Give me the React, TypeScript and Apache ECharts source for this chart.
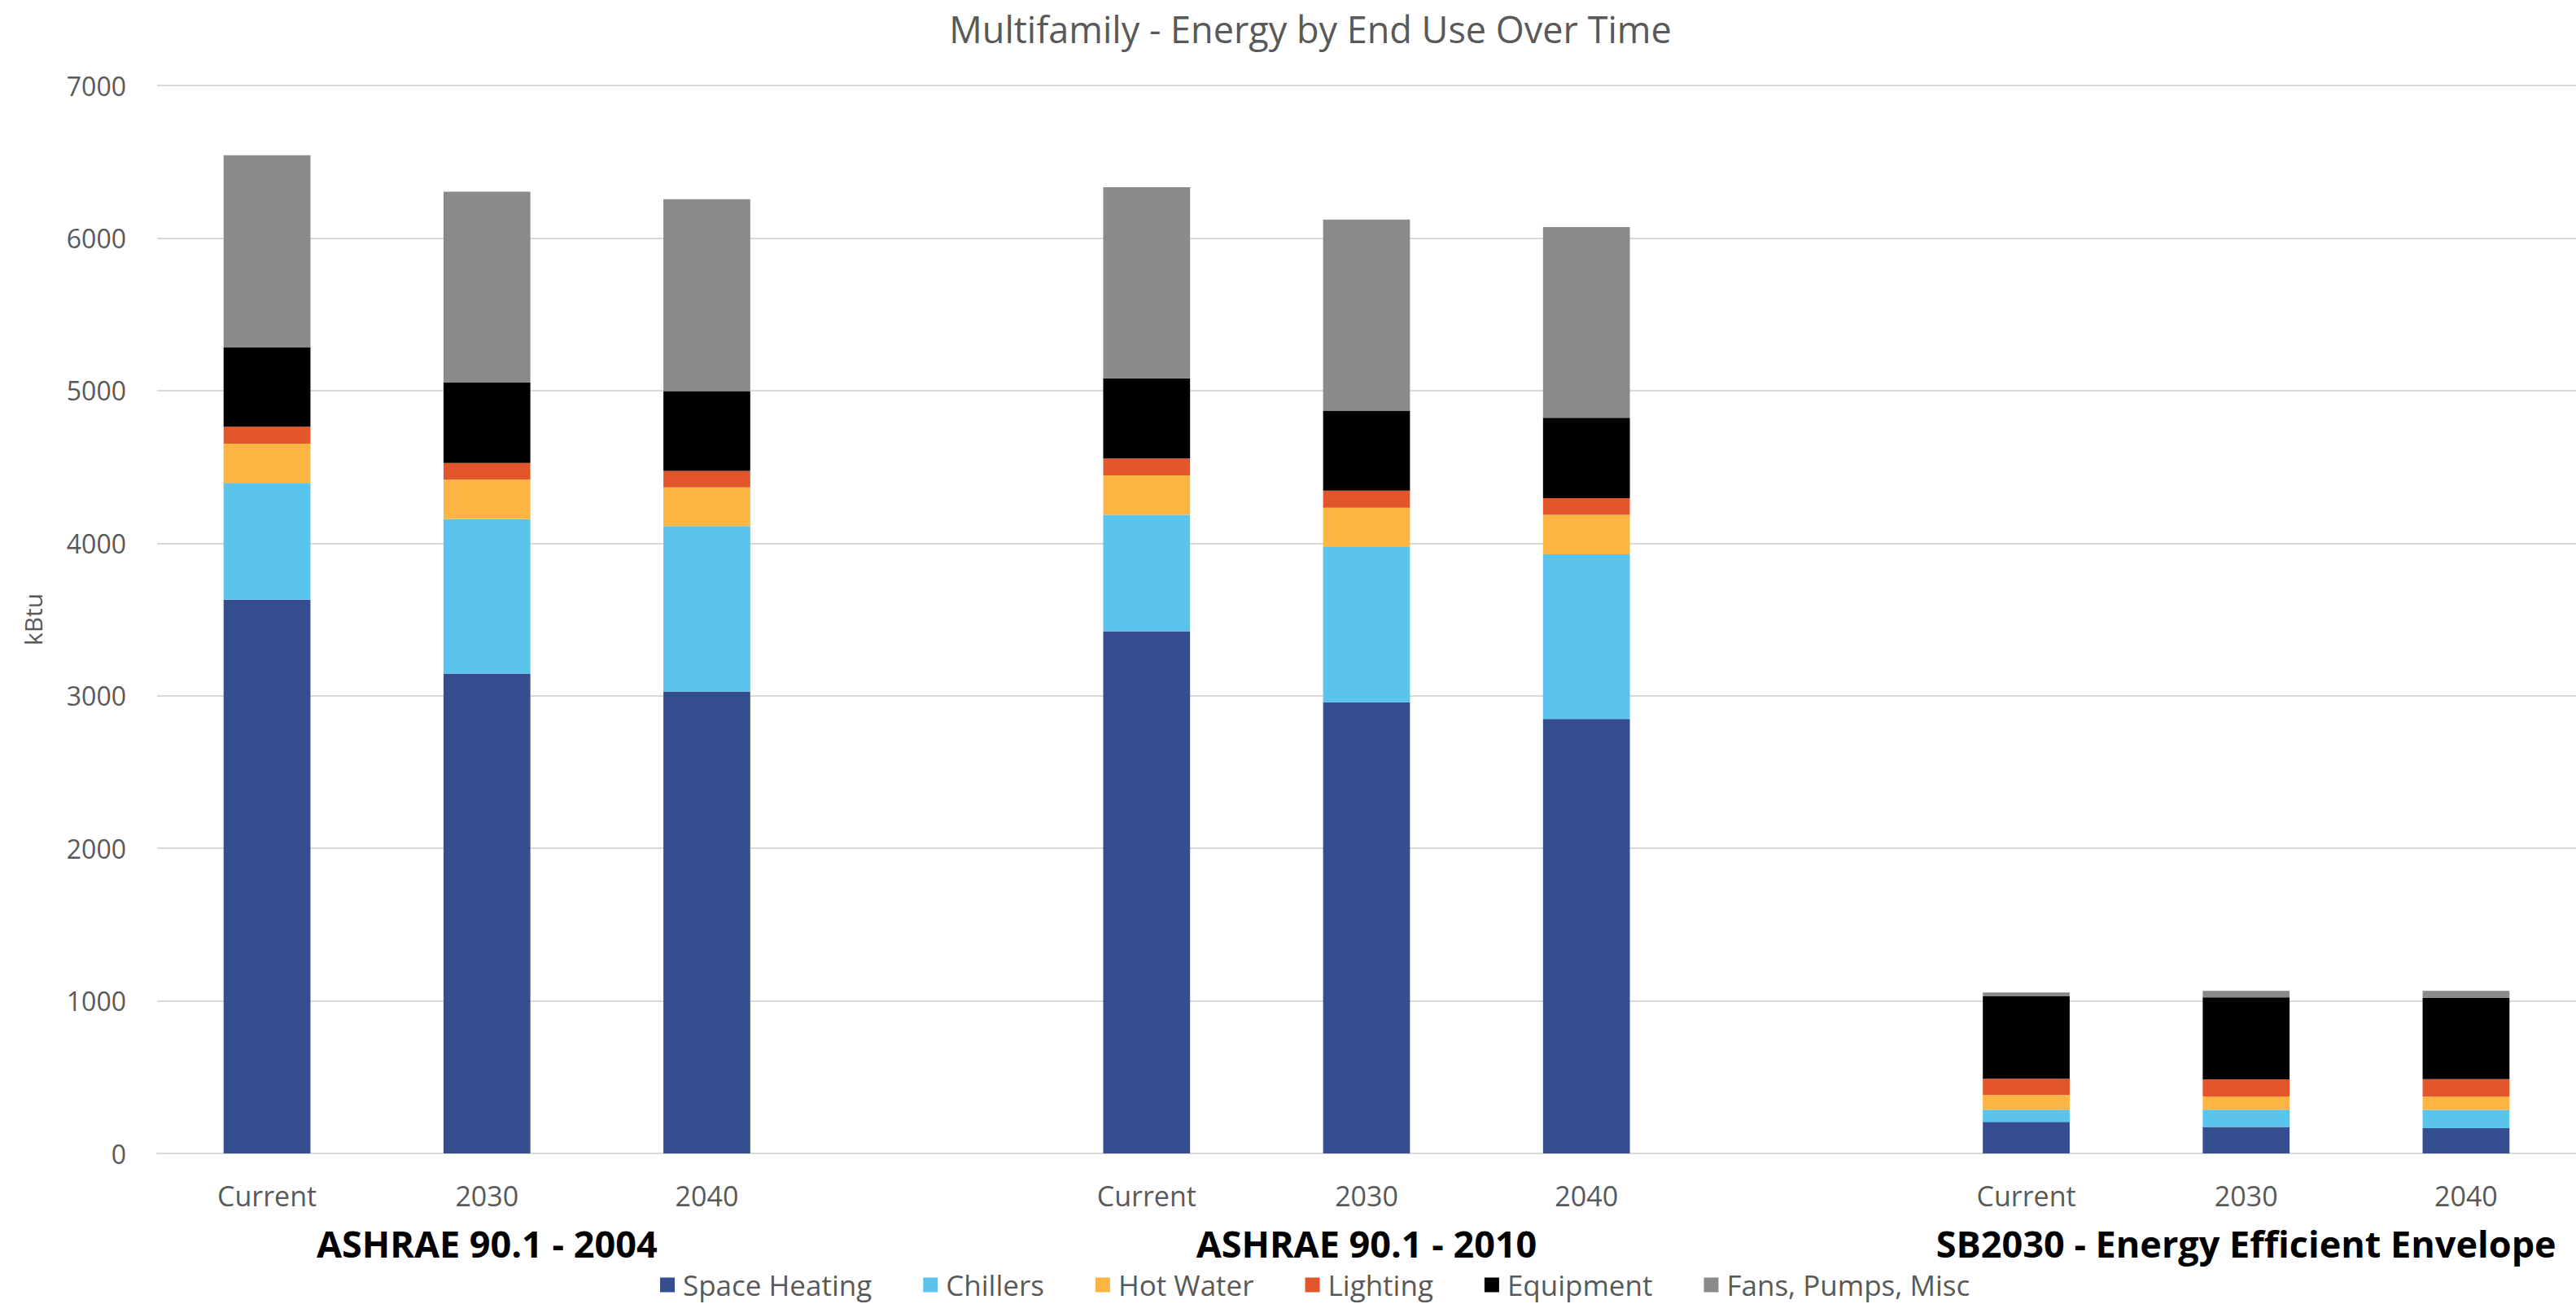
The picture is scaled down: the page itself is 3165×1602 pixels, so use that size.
import React, { useEffect, useRef } from "react";
import * as echarts from "echarts";

const categories = ["Current", "2030", "2040", "", "Current", "2030", "2040", "", "Current", "2030", "2040"];
const groupLabels = ["", "ASHRAE 90.1 - 2004", "", "", "", "ASHRAE 90.1 - 2010", "", "", "", "SB2030 - Energy Efficient Envelope", ""];

const spaceHeating = [3630, 3145, 3028, "-", 3423, 2957, 2848, "-", 207, 174, 165];
const chillers = [765, 1013, 1084, "-", 762, 1018, 1079, "-", 80, 113, 121];
const hotWater = [258, 259, 253, "-", 259, 257, 258, "-", 96, 87, 88];
const lighting = [110, 109, 109, "-", 111, 112, 110, "-", 106, 112, 113];
const equipment = [522, 528, 523, "-", 526, 525, 527, "-", 541, 537, 534];
const fansPumpsMisc = [1258, 1250, 1258, "-", 1252, 1252, 1250, "-", 25, 43, 45];

const seriesNames = ["Space Heating", "Chillers", "Hot Water", "Lighting", "Equipment", "Fans, Pumps, Misc"];
const seriesColors = ["#344E8F", "#5BC4EC", "#FCB442", "#E3552A", "#000000", "#8A8A8A"];
const seriesData = [spaceHeating, chillers, hotWater, lighting, equipment, fansPumpsMisc];

const FONT = "'Open Sans', sans-serif";
const GREY = "#595959";

export default function App() {
  const ref = useRef<HTMLDivElement>(null);
  useEffect(() => {
    if (!ref.current) return;
    const chart = echarts.init(ref.current, null, { renderer: "svg" });
    chart.setOption({
      animation: false,
      backgroundColor: "#ffffff",
      graphic: [
        {
          type: "text",
          x: 1610,
          y: 35,
          style: {
            text: "Multifamily - Energy by End Use Over Time",
            fontFamily: FONT,
            fontSize: 45,
            fill: GREY,
            textAlign: "center",
            textVerticalAlign: "middle",
          },
        },
      ],
      legend: {
        data: seriesNames,
        left: 811,
        top: 1561,
        padding: 0,
        icon: "rect",
        itemWidth: 18,
        itemHeight: 18,
        itemGap: 63,
        textStyle: { fontFamily: FONT, fontSize: 35, color: GREY, padding: [0, 0, 0, 5], lineHeight: 34 },
      },
      grid: { left: 193, right: -7, top: 105, bottom: 185, containLabel: false },
      xAxis: [
        {
          type: "category",
          data: categories,
          axisLine: { show: true, lineStyle: { color: "#D9D9D9", width: 2 } },
          axisTick: { show: false },
          axisLabel: {
            interval: 0,
            fontFamily: FONT,
            fontSize: 34,
            color: GREY,
            margin: 34,
            lineHeight: 36,
          },
        },
        {
          type: "category",
          data: groupLabels,
          position: "bottom",
          axisLine: { show: false },
          axisTick: { show: false },
          splitLine: { show: false },
          axisLabel: {
            interval: 0,
            fontFamily: FONT,
            fontSize: 45,
            fontWeight: "bold",
            color: "#000000",
            margin: 92,
            lineHeight: 36,
          },
        },
      ],
      yAxis: {
        type: "value",
        min: 0,
        max: 7000,
        interval: 1000,
        name: "kBtu",
        nameLocation: "middle",
        nameGap: 138,
        nameTextStyle: { fontFamily: FONT, fontSize: 30, color: GREY },
        axisLine: { show: false },
        axisTick: { show: false },
        axisLabel: {
          fontFamily: FONT,
          fontSize: 32,
          color: GREY,
          margin: 38,
          formatter: (v: number) => String(v),
        },
        splitLine: { lineStyle: { color: "#D9D9D9", width: 2 } },
      },
      series: seriesNames.map((name, i) => ({
        name,
        type: "bar",
        stack: "total",
        xAxisIndex: 0,
        barWidth: "39.5%",
        data: seriesData[i],
        itemStyle: { color: seriesColors[i] },
      })),
    });
    return () => chart.dispose();
  }, []);
  return (
    <div
      ref={ref}
      style={{ position: "fixed", left: 0, top: 0, width: 3165, height: 1602, background: "#fff" }}
    />
  );
}
